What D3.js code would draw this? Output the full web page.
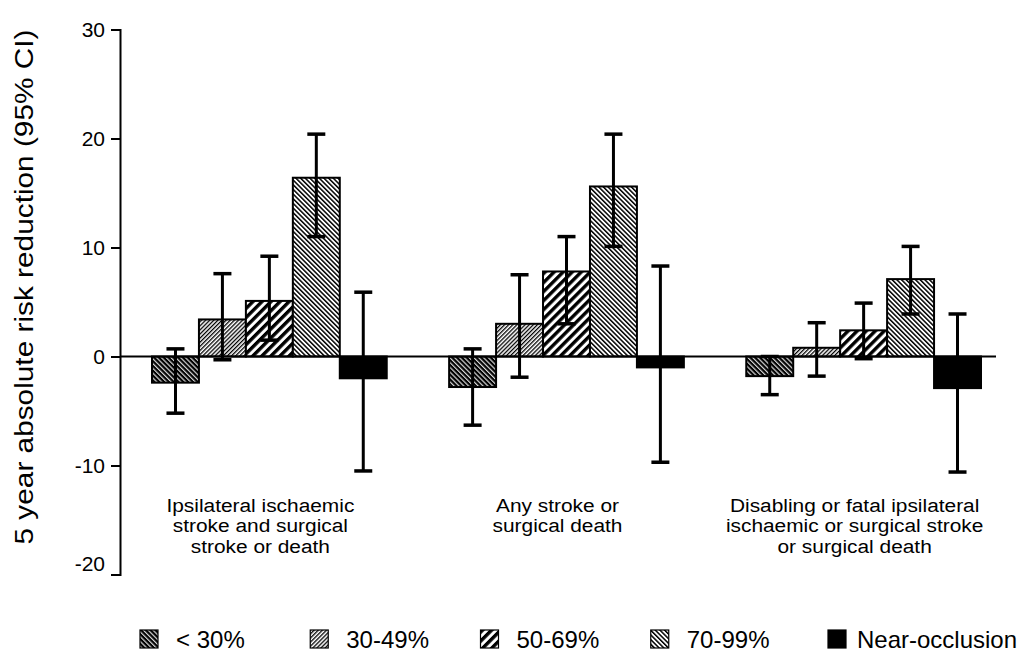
<!DOCTYPE html>
<html>
<head>
<meta charset="utf-8">
<script src="https://cdn.jsdelivr.net/npm/d3@7"></script>
<style>
  body { margin: 0; background: #fff; }
  svg { display: block; font-family: "Liberation Sans", Arial, sans-serif; }
</style>
</head>
<body>
<svg id="chart" width="1031" height="659"></svg>
<script>
// stenosis groups (legend order)
const stenosis = ["< 30%", "30-49%", "50-69%", "70-99%", "Near-occlusion"];

// outcome groups along the x axis, one label line per entry
const outcomeLabels = [
  ["Ipsilateral ischaemic", "stroke and surgical", "stroke or death"],
  ["Any  stroke or", "surgical death"],
  ["Disabling or fatal ipsilateral", "ischaemic or surgical stroke", "or surgical death"]
];

// 5 year absolute risk reduction, one array per outcome (order = stenosis)
const arrIpsilateral = [-2.4, 3.4, 5.1, 16.4, -2.0];
const arrAnyStroke   = [-2.8, 3.0, 7.8, 15.6, -1.0];
const arrDisabling   = [-1.8, 0.8, 2.4, 7.1, -2.9];

// 95% CI lower / upper bounds
const loIpsilateral = [-5.2, -0.3, 1.5, 11.0, -10.5];
const hiIpsilateral = [0.7, 7.6, 9.2, 20.4, 5.9];
const loAnyStroke   = [-6.3, -1.9, 3.0, 10.1, -9.7];
const hiAnyStroke   = [0.7, 7.5, 11.0, 20.4, 8.3];
const loDisabling   = [-3.5, -1.8, -0.2, 3.9, -10.6];
const hiDisabling   = [0.0, 3.1, 4.9, 10.1, 3.9];

const yTicks = [-20, -10, 0, 10, 20, 30];
const yLabel = "5 year absolute risk reduction (95% CI)";

const arrs = [arrIpsilateral, arrAnyStroke, arrDisabling];
const los = [loIpsilateral, loAnyStroke, loDisabling];
const his = [hiIpsilateral, hiAnyStroke, hiDisabling];

const data = [];
outcomeLabels.forEach((lab, g) => {
  stenosis.forEach((s, i) => {
    data.push({group: g, cat: s, value: arrs[g][i], lo: los[g][i], hi: his[g][i]});
  });
});

const svg = d3.select("#chart");

// hatch patterns
const defs = svg.append("defs");
function hatch(id, period, lineW, bg, fg, angle) {
  const p = defs.append("pattern")
    .attr("id", id)
    .attr("patternUnits", "userSpaceOnUse")
    .attr("width", period)
    .attr("height", period)
    .attr("patternTransform", "rotate(" + angle + ")");
  p.append("rect").attr("width", period).attr("height", period).attr("fill", bg);
  p.append("rect").attr("width", lineW).attr("height", period).attr("fill", fg);
}
hatch("h30", 3.4, 1.2, "#000", "#d8d8d8", -45);
hatch("h49", 2.9, 1.3, "#fff", "#000", 45);
hatch("h69", 6.4, 3.4, "#fff", "#000", 45);
hatch("h99", 3.3, 1.5, "#fff", "#000", -45);

const fill = d3.scaleOrdinal()
  .domain(stenosis)
  .range(["url(#h30)", "url(#h49)", "url(#h69)", "url(#h99)", "#000"]);

// scales
const y = d3.scaleLinear().domain([-20, 30]).range([574.5, 29.5]);

const x0 = d3.scaleBand()
  .domain(d3.range(outcomeLabels.length))
  .range([152, 981])
  .paddingInner(0.21)
  .paddingOuter(0);

const x1 = d3.scaleBand()
  .domain(stenosis)
  .range([0, x0.bandwidth()])
  .padding(0);

// y axis
const yAxis = svg.append("g")
  .attr("transform", "translate(120,0)")
  .call(d3.axisLeft(y)
    .tickValues(yTicks)
    .tickSize(9)
    .tickSizeOuter(9)
    .tickPadding(6)
    .tickFormat(d => String(d)));

yAxis.select(".domain").attr("stroke", "#000").attr("stroke-width", 2);
yAxis.selectAll(".tick line").attr("stroke", "#000").attr("stroke-width", 2);
yAxis.selectAll(".tick text")
  .attr("font-size", 21)
  .attr("font-family", "Liberation Sans, Arial, sans-serif")
  .attr("fill", "#000")
  .attr("dy", d => d === -20 ? "-0.2em" : "0.32em");

// y label
svg.append("text")
  .attr("transform", "translate(33,287) rotate(-90)")
  .attr("text-anchor", "middle")
  .attr("font-size", 26)
  .attr("textLength", 515)
  .attr("lengthAdjust", "spacingAndGlyphs")
  .text(yLabel);

// bars
const bars = svg.append("g");
bars.selectAll("rect")
  .data(data)
  .join("rect")
  .attr("x", d => x0(d.group) + x1(d.cat))
  .attr("width", x1.bandwidth())
  .attr("y", d => y(Math.max(0, d.value)))
  .attr("height", d => Math.abs(y(d.value) - y(0)))
  .attr("fill", d => fill(d.cat))
  .attr("stroke", "#000")
  .attr("stroke-width", 2);

// zero line
svg.append("line")
  .attr("x1", 120).attr("x2", 996)
  .attr("y1", y(0)).attr("y2", y(0))
  .attr("stroke", "#000")
  .attr("stroke-width", 2);

// error bars
const cx = d => x0(d.group) + x1(d.cat) + x1.bandwidth() / 2;
const err = svg.append("g").attr("stroke", "#000");
err.selectAll(".stem")
  .data(data)
  .join("line")
  .attr("class", "stem")
  .attr("x1", cx).attr("x2", cx)
  .attr("y1", d => y(d.hi)).attr("y2", d => y(d.lo))
  .attr("stroke-width", 3);
["lo", "hi"].forEach(k => {
  err.selectAll(".cap-" + k)
    .data(data)
    .join("line")
    .attr("class", "cap-" + k)
    .attr("x1", d => cx(d) - 9).attr("x2", d => cx(d) + 9)
    .attr("y1", d => y(d[k])).attr("y2", d => y(d[k]))
    .attr("stroke-width", 3.5);
});

// outcome labels
const labels = svg.append("g")
  .selectAll("g")
  .data(outcomeLabels)
  .join("g")
  .attr("transform", (d, i) => "translate(" + (x0(i) + x0.bandwidth() / 2 - 9) + ",512) scale(1.16,1)");
labels.selectAll("text")
  .data(d => d)
  .join("text")
  .attr("text-anchor", "middle")
  .attr("font-size", 18)
  .attr("y", (d, i) => i * 20.5)
  .text(d => d);

// legend
const lx = d3.scalePoint().domain(stenosis).range([176, 857]);
const legend = svg.append("g")
  .selectAll("g")
  .data(stenosis)
  .join("g")
  .attr("transform", d => "translate(" + lx(d) + ",630)");
legend.append("rect")
  .attr("x", d => d === "Near-occlusion" ? -29 : -36)
  .attr("width", 18)
  .attr("height", 18)
  .attr("fill", d => fill(d))
  .attr("stroke", "#000")
  .attr("stroke-width", 1.2);
legend.append("text")
  .attr("y", 18)
  .attr("font-size", 24)
  .text(d => d);
</script>
</body>
</html>
